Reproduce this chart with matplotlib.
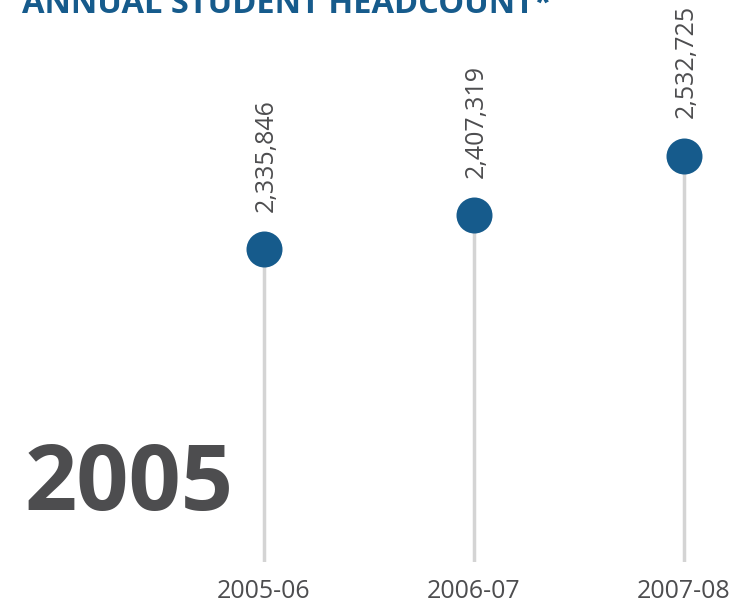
import matplotlib.pyplot as plt

plt.rcParams['font.family'] = ['Open Sans', 'DejaVu Sans']

years = ['2005-06', '2006-07', '2007-08']
headcount = [2335846, 2407319, 2532725]
big_year = '2005'
title = 'ANNUAL STUDENT HEADCOUNT*'

BLUE = '#165b8c'
GREY = '#4d4d4f'
STEM = '#d4d4d4'

W, H = 746, 602
fig = plt.figure(figsize=(W / 100, H / 100), dpi=100)
# axes sits over the whole width, bottom at the stem foot
ax = fig.add_axes([0, 1 - 562 / H, 1, 562 / H])

x = list(range(len(years)))
ax.set_xlim(-264 / 210, (W - 264) / 210)
k = 93 / (headcount[2] - headcount[0])  # px per student
y0 = headcount[0] - 313 / k
y1 = headcount[0] + 249 / k
ax.set_ylim(y0, y1)

ax.vlines(x, y0, headcount, color=STEM, lw=2.5, zorder=1)
ax.scatter(x, headcount, s=(36 * 72 / 100) ** 2, color=BLUE, zorder=2, linewidths=0)

for xi, v in zip(x, headcount):
    ax.annotate(f'{v:,}', (xi, v), xytext=(1.5, 27), textcoords='offset points',
                rotation=90, ha='center', va='bottom', fontsize=18, color=GREY)

ax.set_xticks(x, years)
ax.tick_params(axis='x', length=0, pad=12, labelsize=18, labelcolor=GREY)
ax.set_yticks([])
for s in ax.spines.values():
    s.set_visible(False)

fig.text(25 / W, 1 - 510 / H, big_year, fontsize=66, fontweight='bold', color=GREY,
         ha='left', va='baseline')
fig.text(22 / W, 1 - 13 / H, title, fontsize=23.5, fontweight='bold', color=BLUE,
         ha='left', va='baseline')

fig.savefig('out.png', dpi=100)
